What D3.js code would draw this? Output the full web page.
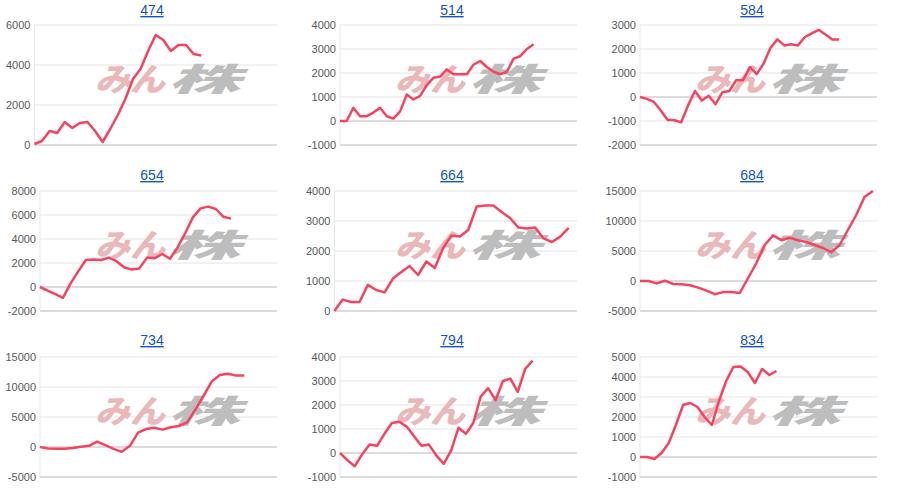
<!DOCTYPE html>
<html>
<head>
<meta charset="utf-8">
<script src="https://cdn.jsdelivr.net/npm/d3@7"></script>
<style>
body { margin: 0; background: #fff; }
svg { display: block; font-family: Arial, "Liberation Sans", sans-serif; }
</style>
</head>
<body>
<div id="viz"></div>
<script>
// one entry per small chart
const titles = ["474", "514", "584", "654", "664", "684", "734", "794", "834"];
const yTicks = [
    [0, 2000, 4000, 6000],
    [-1000, 0, 1000, 2000, 3000, 4000],
    [-2000, -1000, 0, 1000, 2000, 3000],
    [-2000, 0, 2000, 4000, 6000, 8000],
    [0, 1000, 2000, 3000, 4000],
    [-5000, 0, 5000, 10000, 15000],
    [-5000, 0, 5000, 10000, 15000],
    [-1000, 0, 1000, 2000, 3000, 4000],
    [-1000, 0, 1000, 2000, 3000, 4000, 5000]
];
const xSlots = [32, 35.5, 34.5, 31, 29, 28.5, 29, 32, 33];
const s474 = [50, 200, 700, 600, 1150, 850, 1100, 1150, 700, 150, 800, 1500, 2300, 3300, 3800, 4700, 5500, 5250, 4700, 5000, 5000, 4550, 4480];
const s514 = [0, 0, 550, 200, 200, 350, 550, 200, 100, 400, 1100, 900, 1050, 1500, 1800, 1850, 2150, 1950, 1950, 1950, 2350, 2500, 2250, 2050, 1950, 2050, 2600, 2700, 3000, 3200];
const s584 = [0, -80, -200, -550, -950, -970, -1050, -350, 250, -150, 50, -300, 200, 250, 700, 700, 1250, 950, 1400, 2050, 2400, 2150, 2200, 2150, 2500, 2650, 2800, 2600, 2400, 2400];
const s654 = [0, -300, -600, -900, 300, 1300, 2250, 2300, 2250, 2450, 2150, 1650, 1450, 1550, 2450, 2400, 2750, 2350, 3300, 4500, 5800, 6550, 6700, 6500, 5850, 5700];
const s664 = [0, 380, 300, 300, 870, 700, 620, 1080, 1300, 1500, 1200, 1650, 1430, 2100, 2520, 2480, 2700, 3480, 3520, 3520, 3300, 3100, 2780, 2750, 2780, 2420, 2300, 2480, 2770];
const s684 = [0, 0, -400, 50, -500, -550, -700, -1100, -1600, -2200, -1850, -1850, -2000, 500, 3000, 6000, 7600, 6800, 7200, 6800, 6500, 6000, 5500, 4800, 6000, 8500, 11000, 14000, 15000];
const s734 = [0, -250, -300, -300, -150, 50, 200, 900, 300, -300, -800, 200, 2400, 3000, 3200, 2900, 3300, 3500, 4100, 6200, 8500, 10900, 12000, 12200, 11900, 11900];
const s794 = [0, -300, -550, -50, 350, 300, 800, 1250, 1300, 1100, 700, 300, 350, -100, -450, 100, 1050, 800, 1250, 2350, 2700, 2200, 3000, 3100, 2550, 3500, 3850];
const s834 = [0, 0, -100, 200, 700, 1600, 2600, 2700, 2500, 2000, 1600, 2800, 3800, 4500, 4520, 4250, 3700, 4400, 4100, 4300];
const series = [s474, s514, s584, s654, s664, s684, s734, s794, s834];

const W = 900, H = 498;
const panelW = 300;
const rowTop = [0, 165, 330];
const svg = d3.select("#viz").append("svg").attr("width", W).attr("height", H);

titles.forEach((t, i) => {
    const col = i % 3, row = Math.floor(i / 3);
    const g = svg.append("g").attr("transform", `translate(${col * panelW},${rowTop[row]})`);
    const ticks = yTicks[i];
    const maxChars = d3.max(ticks, d => String(d).length);
    const left = 12 + maxChars * 5.6, right = 277;
    const top = 25 + row, bottom = 145 + row;

    const x = d3.scaleLinear().domain([0, xSlots[i]]).range([left, right]);
    const y = d3.scaleLinear().domain(d3.extent(ticks)).range([bottom, top]);

    // gridlines
    g.selectAll(".grid").data(ticks).enter().append("line")
        .attr("x1", left).attr("x2", right)
        .attr("y1", d => y(d)).attr("y2", d => y(d))
        .attr("stroke", d => d === 0 || d === ticks[0] ? "#b8b8b8" : "#e4e4e4")
        .attr("stroke-width", 1);
    g.append("line").attr("x1", left).attr("x2", left).attr("y1", top).attr("y2", bottom)
        .attr("stroke", "#e8e8e8");

    g.selectAll(".lbl").data(ticks).enter().append("text")
        .attr("x", left - 4).attr("y", d => y(d) + 4)
        .attr("text-anchor", "end").attr("font-size", 11).attr("fill", "#5a5a5a")
        .text(d => d);

    // watermark
    const wm = g.append("g").attr("font-weight", 900).attr("font-style", "italic")
        .attr("font-family", "'Noto Sans CJK JP', sans-serif").attr("font-size", 32);
    wm.append("text").attr("x", 95).attr("y", 91 + row)
        .attr("textLength", 70).attr("lengthAdjust", "spacingAndGlyphs")
        .attr("fill", "#eab8b8").text("みん");
    wm.append("text").attr("x", 168).attr("y", 91 + row)
        .attr("textLength", 72).attr("lengthAdjust", "spacingAndGlyphs")
        .attr("fill", "#bdbdbd").text("株");

    g.append("path").datum(series[i])
        .attr("fill", "none").attr("stroke", "#fb4160").attr("stroke-width", 2.5)
        .attr("stroke-linejoin", "round")
        .attr("d", d3.line().x((d, k) => x(k)).y(d => y(d)));

    g.append("text").attr("x", 152).attr("y", 15)
        .attr("text-anchor", "middle").attr("font-size", 14).attr("fill", "#1155cc")
        .attr("text-decoration", "underline").text(t);
});
</script>
</body>
</html>
